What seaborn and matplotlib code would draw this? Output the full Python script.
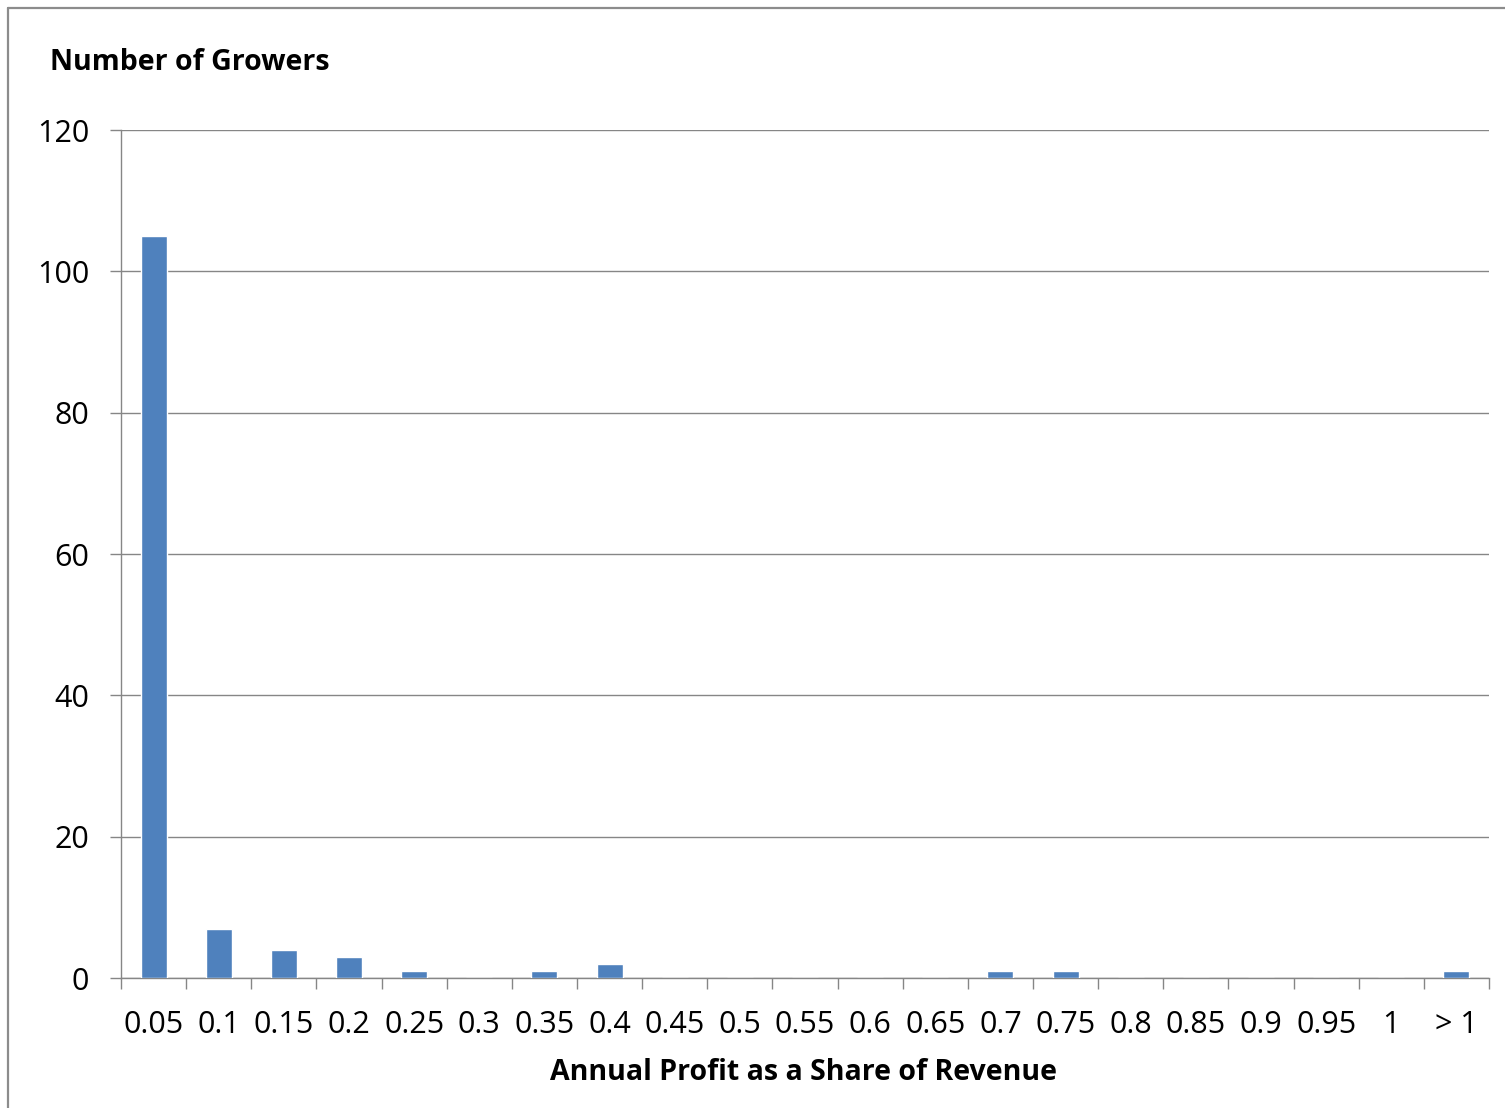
import matplotlib
matplotlib.use("Agg")
import matplotlib.pyplot as plt
from matplotlib.lines import Line2D
import seaborn as sns
import pandas as pd

# Histogram bins and grower counts
bins = ["0.05", "0.1", "0.15", "0.2", "0.25", "0.3", "0.35", "0.4", "0.45", "0.5",
        "0.55", "0.6", "0.65", "0.7", "0.75", "0.8", "0.85", "0.9", "0.95", "1", "> 1"]
growers = [105, 7, 4, 3, 1, 0, 1, 2, 0, 0,
           0, 0, 0, 1, 1, 0, 0, 0, 0, 0, 1]
y_ticks = [0, 20, 40, 60, 80, 100, 120]

sns.set_theme(style="white")
plt.rcParams["font.family"] = ["Open Sans", "DejaVu Sans"]

df = pd.DataFrame({"bin": bins, "count": growers})

W, H = 1505, 1108
fig = plt.figure(figsize=(W / 100, H / 100), dpi=100)
ax = fig.add_axes([121 / W, 1 - 978 / H, (1489 - 121) / W, (978 - 130) / H])

sns.barplot(data=df, x="bin", y="count", color="#4F81BD", width=0.4,
            saturation=1, ax=ax, zorder=3)

grid_c = "#868686"
ax.set_ylim(0, 120)
ax.set_xlim(-0.5, len(bins) - 0.5)
ax.set_yticks(y_ticks)
ax.yaxis.grid(True, color=grid_c, linewidth=1.0, zorder=0)
ax.set_axisbelow(True)

for side in ("top", "right"):
    ax.spines[side].set_visible(False)
for side in ("left", "bottom"):
    ax.spines[side].set_color(grid_c)
    ax.spines[side].set_linewidth(1.0)

# category labels without marks; marks on bin boundaries
ax.set_xticks(range(len(bins)))
ax.set_xticklabels(bins)
ax.tick_params(axis="x", which="major", length=0, pad=23, labelsize=22, colors="black")
ax.set_xticks([i - 0.5 for i in range(len(bins) + 1)], minor=True)
ax.tick_params(axis="x", which="minor", bottom=True, length=8, width=1.0, color=grid_c)
ax.tick_params(axis="y", which="major", left=True, length=8, width=1.0, color=grid_c,
               labelsize=22, pad=15, labelcolor="black")

ax.set_xlabel("")
ax.set_ylabel("")
fig.text(804 / W, 1 - 1073 / H, "Annual Profit as a Share of Revenue", ha="center",
         va="center", fontsize=20.5, fontweight="bold", color="black")
fig.text(50 / W, 1 - 63 / H, "Number of Growers", ha="left", va="center",
         fontsize=20.5, fontweight="bold", color="black")

# outer frame, left and top edges
fig.add_artist(Line2D([8 / W, 8 / W], [0, 1 - 8 / H], transform=fig.transFigure,
                      color="#8c8c8c", linewidth=1.6))
fig.add_artist(Line2D([8 / W, 1], [1 - 8 / H, 1 - 8 / H], transform=fig.transFigure,
                      color="#8c8c8c", linewidth=1.6))

fig.savefig("out.png", dpi=100, facecolor="white")
